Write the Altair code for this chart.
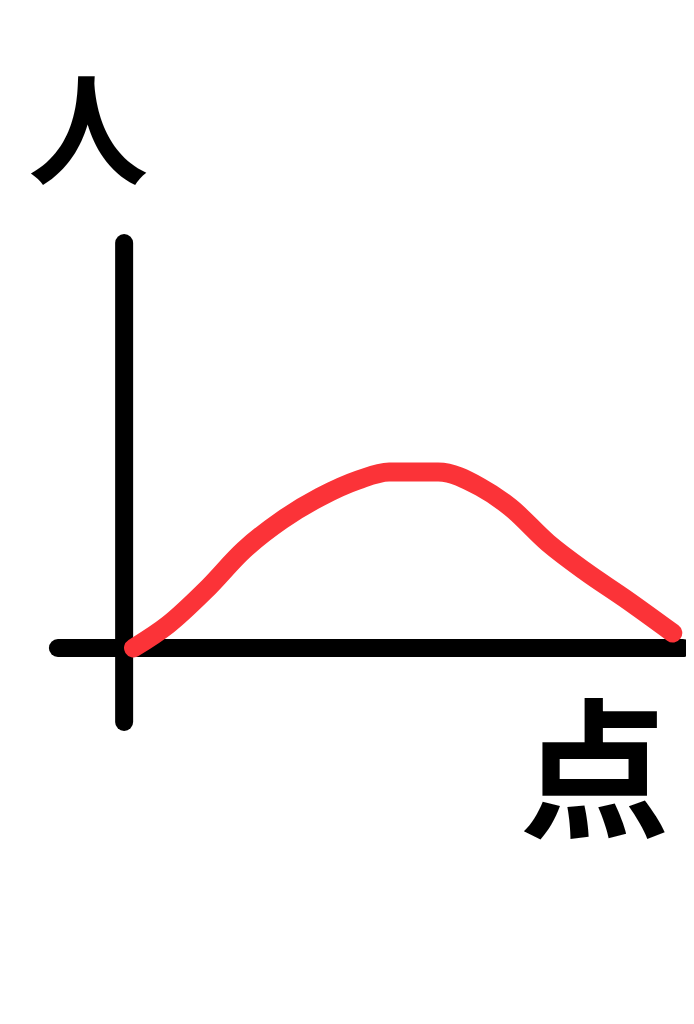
import altair as alt
import pandas as pd

# Curve: score (点) vs number of people (人)
score = [1, 7.2, 14.1, 21.0, 27.9, 34.8, 41.7, 47.3, 56.2, 63.8, 69.2, 76.1, 83.0, 89.9, 98.7]
people = [0, 4.6, 11.6, 19.6, 25.6, 30.2, 33.6, 35.2, 35.2, 32.2, 28.2, 21.0, 15.2, 10.0, 3.0]

# Axis lines (data units)
axis_x0 = [-12.7, -0.7]
axis_x1 = [100.5, -0.7]
axis_y0 = [0, 81]
axis_y1 = [0, -14.8]

labels = ["人", "点"]
label_x = [-7.2, 84.5]
label_y = [101.6, -26.5]
label_size = [120, 150]

xs = alt.Scale(domain=[-21.74, 101.09], nice=False, zero=False)
ys = alt.Scale(domain=[-73.6, 128], nice=False, zero=False)

curve_df = pd.DataFrame({"score": score, "people": people})
axes_df = pd.DataFrame({"x": axis_x0, "x2": axis_x1, "y": axis_y0, "y2": axis_y1})
lab_df = pd.DataFrame({"t": labels, "x": label_x, "y": label_y, "s": label_size})

axes = alt.Chart(axes_df).mark_rule(color="black", strokeWidth=18, strokeCap="round").encode(
    x=alt.X("x:Q", scale=xs, axis=None),
    x2="x2:Q",
    y=alt.Y("y:Q", scale=ys, axis=None),
    y2="y2:Q",
)

curve = alt.Chart(curve_df).mark_line(
    color="#fb3338", strokeWidth=19, strokeCap="round", strokeJoin="round", interpolate="monotone"
).encode(
    x=alt.X("score:Q", scale=xs, axis=None),
    y=alt.Y("people:Q", scale=ys, axis=None),
)

text = alt.Chart(lab_df).mark_text(
    font="Noto Sans CJK JP", fontWeight="bold", color="black", align="center", baseline="middle"
).encode(
    x=alt.X("x:Q", scale=xs, axis=None),
    y=alt.Y("y:Q", scale=ys, axis=None),
    text="t:N",
    size=alt.Size("s:Q", scale=None, legend=None),
)

chart = alt.layer(axes, curve, text).properties(
    width=678, height=1008, padding=0, autosize=alt.AutoSizeParams(type="none"),
    background="white",
).configure_view(stroke=None)

chart.save("out.html", embed_options={"renderer": "svg", "actions": False})
